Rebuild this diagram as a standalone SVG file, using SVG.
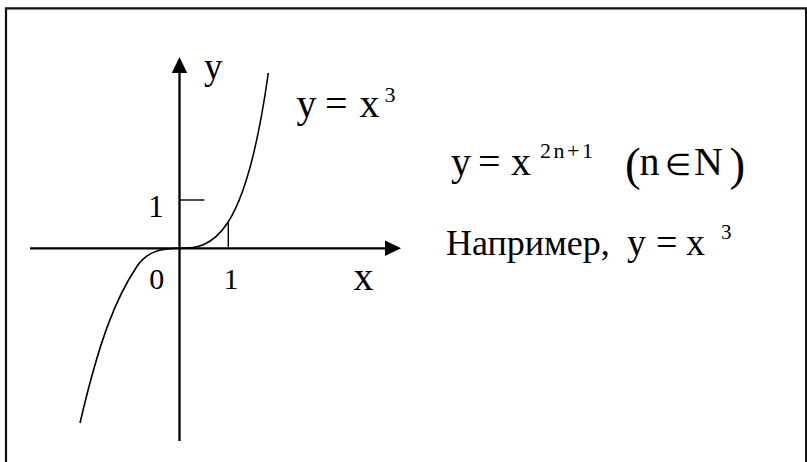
<svg xmlns="http://www.w3.org/2000/svg" width="807" height="462" viewBox="0 0 807 462">
<style>
.t{font-family:"Liberation Serif","Times New Roman",serif;fill:#000}
.ax{stroke:#000;stroke-width:2.3;fill:none}
.tk{stroke:#000;stroke-width:1.4;fill:none}
.cv{stroke:#000;stroke-width:1.6;fill:none}
</style>
<defs>
<marker id="arr" markerUnits="userSpaceOnUse" markerWidth="16" markerHeight="16" viewBox="0 0 16 16" refX="8" refY="8" orient="auto">
<path d="M0,0.3 L16,8 L0,15.7 z" fill="#000"/>
</marker>
</defs>
<rect width="807" height="462" fill="#fff"/>
<g id="frame">
<path d="M6,462 V8.3 H807" stroke="#111" stroke-width="2.2" fill="none"/>
<line x1="806" y1="8.3" x2="806" y2="462" stroke="#111" stroke-width="2"/>
</g>
<g id="connectors">
<line class="ax" x1="30" y1="248.3" x2="393" y2="248.3" marker-end="url(#arr)"/>
<line class="ax" x1="179.5" y1="441" x2="179.5" y2="65" marker-end="url(#arr)"/>
<line class="tk" x1="179.5" y1="200" x2="204.5" y2="200"/>
<line class="tk" x1="228.3" y1="223" x2="228.3" y2="248"/>
</g>
<g id="curve">
<path class="cv" d="M80,423 C100,337 116.7,296.7 136.7,266.7 C146.7,251.7 160,248.3 179.5,248.3 C212,248.3 245,240 268.3,73"/>
</g>
<g id="axis-labels">
<text class="t" x="204" y="78.5" font-size="37">y</text>
<text class="t" x="156" y="216.5" font-size="31" text-anchor="middle">1</text>
<text class="t" x="156.7" y="289" font-size="30" text-anchor="middle">0</text>
<text class="t" x="231" y="289" font-size="30" text-anchor="middle">1</text>
<text class="t" x="363.5" y="290" font-size="40" text-anchor="middle">x</text>
</g>
<g id="curve-label">
<text class="t" x="296.5 325 359.5" y="117.3" font-size="40">y=x</text>
<text class="t" x="384.5" y="101.7" font-size="22">3</text>
</g>
<g id="formula">
<text class="t" x="451 478 511" y="175" font-size="40">y=x</text>
<text class="t" x="540" y="157.5" font-size="22" letter-spacing="2.5">2n+1</text>
<text class="t" x="625" y="180" font-size="47">(</text>
<text class="t" x="639.5" y="175" font-size="40">n</text>
<text class="t" x="665" y="175" font-size="30">∈</text>
<text class="t" x="694" y="175" font-size="40">N</text>
<text class="t" x="729.5" y="180" font-size="47">)</text>
</g>
<g id="example">
<text class="t" x="446" y="255" font-size="36">Например,</text>
<text class="t" x="627 656 686" y="255" font-size="38">y=x</text>
<text class="t" x="721" y="238.5" font-size="21">3</text>
</g>
</svg>
